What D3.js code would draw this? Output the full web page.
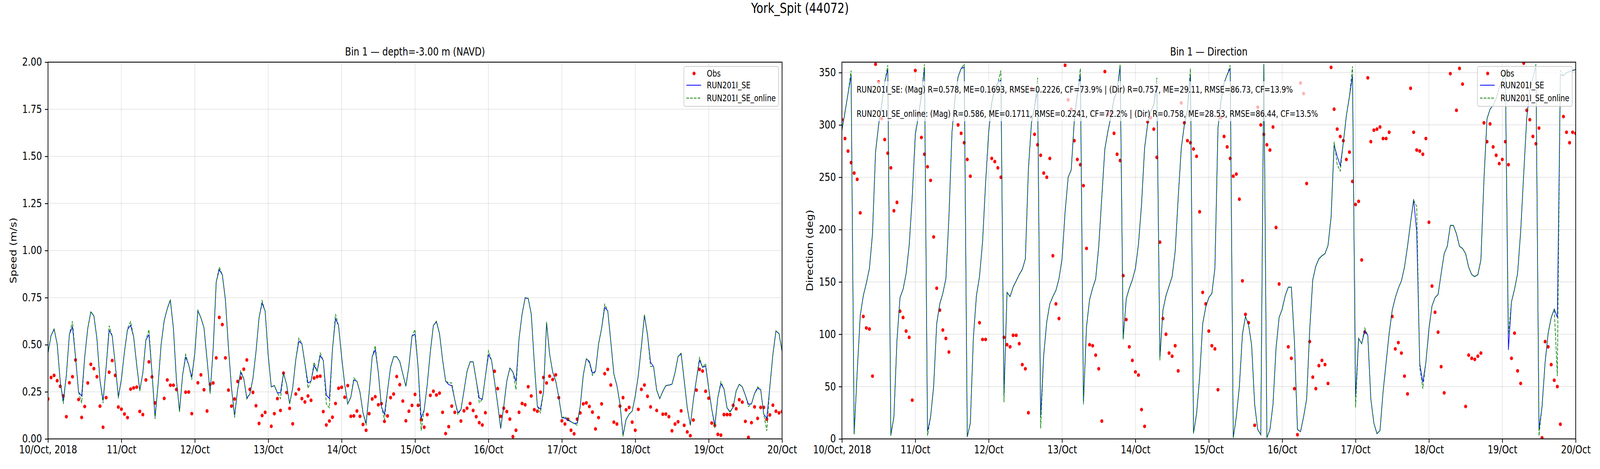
<!DOCTYPE html>
<html>
<head>
<meta charset="utf-8">
<script src="https://cdn.jsdelivr.net/npm/d3@7"></script>
<style>
  html, body { margin: 0; padding: 0; background: #fff; overflow: hidden; }
  #chart { display: block; width: 100vw; height: 100vh; }
  text { font-family: "DejaVu Sans", sans-serif; fill: #000; }
</style>
</head>
<body>
<svg id="chart" viewBox="0 0 5000 1200" preserveAspectRatio="none"></svg>
<script>
// hourly series, 10/Oct 00:00 to 20/Oct 00:00 (UTC), one row per day
const startTime = new Date(Date.UTC(2018, 9, 10, 0));
const dayLabels = ["10/Oct, 2018", "11/Oct", "12/Oct", "13/Oct", "14/Oct", "15/Oct",
  "16/Oct", "17/Oct", "18/Oct", "19/Oct", "20/Oct"];
const speedTicks = [0, 0.25, 0.5, 0.75, 1.0, 1.25, 1.5, 1.75, 2.0];
const dirTicks = [0, 50, 100, 150, 200, 250, 300, 350];
const seriesNames = ["Obs", "RUN201I_SE", "RUN201I_SE_online"];

const speedObs = [
  0.212,0.326,0.337,0.309,0.279,0.228,0.118,0.298,0.330,0.419,0.209,0.114,0.172,0.297,0.396,0.373,0.330,0.174,0.062,0.219,0.354,0.416,0.337,0.169,
  0.158,0.132,0.113,0.264,0.271,0.275,0.146,0.129,0.313,0.409,0.329,0.191,null,null,0.215,0.313,0.285,0.285,0.262,null,null,0.248,0.249,0.134,
  null,0.298,0.340,0.261,0.148,0.290,0.297,0.430,0.645,0.607,0.430,0.259,0.174,0.212,0.305,0.323,0.370,0.419,0.263,0.247,0.176,0.082,0.124,0.141,
  null,0.067,0.134,0.214,0.151,0.349,0.246,0.162,0.080,0.238,0.263,0.214,0.196,0.228,0.205,0.323,0.330,0.333,0.145,0.074,0.095,0.115,0.188,0.269,
  0.274,0.221,0.283,0.120,0.122,0.148,0.120,0.077,0.046,0.134,0.212,0.224,0.181,0.187,0.093,0.122,0.219,0.238,0.331,0.288,0.201,0.096,0.147,0.178,
  0.236,0.178,0.102,0.062,0.129,0.231,0.253,0.233,0.243,0.141,0.028,0.065,0.174,0.141,null,0.095,0.149,0.163,0.188,0.151,0.118,0.086,0.074,0.139,
  null,null,0.359,0.267,0.120,0.163,0.145,0.105,0.012,0.046,0.141,0.188,0.181,0.277,0.228,0.155,0.147,0.248,0.326,0.297,0.333,0.315,0.340,0.219,
  0.096,0.079,0.104,0.046,0.027,0.105,0.138,0.186,0.191,0.172,0.142,0.053,0.113,0.186,0.346,0.369,0.286,0.089,0.079,0.174,0.219,0.154,0.167,0.089,
  0.046,0.157,0.263,0.286,0.226,0.170,null,0.151,null,0.131,0.132,0.118,0.043,0.079,0.091,0.149,0.072,0.037,0.017,0.100,0.259,0.369,0.360,0.253,
  0.216,0.084,0.072,0.024,0.020,0.129,0.129,0.129,0.178,0.160,0.208,0.195,0.093,0.008,0.086,0.170,0.109,0.167,0.167,0.104,0.127,0.179,0.147,0.138,
  0.145];

const speedSE = [
  0.456,0.549,0.582,0.504,0.304,0.200,0.338,0.556,0.595,0.435,0.248,0.228,0.435,0.587,0.674,0.653,0.532,0.310,0.203,0.380,0.577,0.546,0.393,0.224,
  0.317,0.463,0.580,0.603,0.542,0.393,0.259,0.349,0.525,0.553,0.352,0.117,0.290,0.504,0.629,0.691,0.736,0.587,0.310,0.148,0.338,0.435,0.393,0.328,
  0.456,0.680,0.643,0.590,0.421,0.245,0.477,0.833,0.898,0.871,0.739,0.483,0.269,0.124,0.262,0.352,0.321,0.217,0.238,0.321,0.463,0.643,0.722,0.677,
  0.442,0.276,0.283,0.245,0.245,0.349,0.290,0.186,0.270,0.420,0.518,0.506,0.400,0.297,0.307,0.390,0.359,0.442,0.416,0.233,0.214,0.476,0.638,0.601,
  0.435,0.290,0.186,0.221,0.313,0.306,0.248,0.138,0.082,0.248,0.438,0.473,0.352,0.172,0.131,0.255,0.380,0.436,0.436,0.411,0.345,0.279,0.387,0.546,
  0.556,0.380,0.110,0.155,0.290,0.463,0.602,0.622,0.559,0.421,0.307,0.288,0.283,0.207,0.139,0.155,0.255,0.359,0.409,0.409,0.311,0.217,0.210,0.331,
  0.447,0.418,0.304,0.186,0.055,0.172,0.307,0.376,0.355,0.304,0.532,0.663,0.748,0.746,0.663,0.400,0.172,0.158,0.250,0.615,0.450,0.355,0.307,0.221,
  0.113,0.110,0.100,0.091,0.082,0.084,0.172,0.338,0.425,0.411,0.349,0.359,0.504,0.587,0.698,0.680,0.518,0.345,0.283,0.186,0.020,0.103,0.131,0.148,
  0.228,0.338,0.490,0.656,0.553,0.407,0.383,0.259,0.214,0.252,0.283,0.286,0.290,0.352,0.438,0.451,0.310,0.165,0.072,0.207,0.317,0.418,0.380,0.387,
  0.269,0.158,0.072,0.221,0.293,0.266,0.165,0.145,0.169,0.255,0.290,0.276,0.231,0.184,0.186,0.241,0.269,0.262,0.131,0.110,0.276,0.449,0.573,0.559,
  0.463];

const speedOnline = [
  0.456,0.549,0.584,0.504,0.304,0.186,0.338,0.556,0.625,0.435,0.248,0.190,0.435,0.587,0.676,0.653,0.532,0.310,0.190,0.380,0.601,0.546,0.393,0.215,
  0.317,0.463,0.585,0.623,0.542,0.393,0.254,0.349,0.525,0.580,0.352,0.106,0.290,0.504,0.629,0.691,0.740,0.587,0.310,0.143,0.338,0.449,0.393,0.314,
  0.456,0.683,0.643,0.590,0.421,0.240,0.477,0.833,0.912,0.871,0.739,0.483,0.269,0.113,0.262,0.362,0.321,0.212,0.238,0.321,0.463,0.643,0.734,0.677,
  0.442,0.276,0.283,0.245,0.214,0.349,0.290,0.186,0.270,0.420,0.535,0.506,0.400,0.269,0.307,0.407,0.359,0.456,0.416,0.186,0.165,0.476,0.662,0.601,
  0.435,0.290,0.186,0.221,0.324,0.306,0.248,0.138,0.072,0.248,0.438,0.494,0.352,0.172,0.100,0.255,0.380,0.436,0.436,0.411,0.345,0.279,0.387,0.546,
  0.580,0.380,0.044,0.155,0.290,0.463,0.602,0.625,0.559,0.421,0.307,0.297,0.297,0.207,0.129,0.155,0.255,0.359,0.409,0.409,0.311,0.193,0.210,0.331,
  0.468,0.418,0.304,0.186,0.060,0.172,0.307,0.376,0.355,0.262,0.532,0.663,0.750,0.746,0.663,0.400,0.172,0.138,0.250,0.622,0.450,0.355,0.307,0.221,
  0.113,0.118,0.105,0.091,0.082,0.073,0.172,0.338,0.425,0.404,0.337,0.359,0.504,0.587,0.715,0.680,0.518,0.345,0.283,0.186,0.013,0.103,0.131,0.148,
  0.228,0.338,0.490,0.660,0.553,0.385,0.383,0.259,0.214,0.252,0.283,0.286,0.290,0.352,0.438,0.455,0.310,0.165,0.072,0.207,0.317,0.432,0.380,0.400,
  0.269,0.158,0.058,0.221,0.304,0.266,0.165,0.141,0.169,0.255,0.290,0.276,0.231,0.172,0.186,0.241,0.276,0.262,0.131,0.044,0.276,0.449,0.573,0.559,
  0.463];

const dirObs = [
  305,287,275,264,254,248,216,117,106,105,60,358,341,306,286,273,259,218,226,122,116,103,97,37,
  352,311,288,272,260,247,193,144,123,104,96,83,null,null,300,292,283,267,251,null,null,111,95,95,
  null,268,265,259,250,97,90,88,99,99,91,71,67,25,335,291,281,271,254,250,268,175,129,115,
  null,357,324,315,285,267,262,242,182,90,89,80,67,17,351,310,312,292,272,266,156,114,88,75,
  64,61,28,12,303,307,296,269,188,115,100,82,79,89,65,321,302,285,283,277,270,217,140,129,
  103,89,86,47,307,289,279,268,251,253,229,151,119,111,null,13,317,300,291,281,276,298,202,148,
  null,null,88,77,48,4,340,330,244,93,59,48,70,75,71,53,355,315,296,289,285,267,274,246,
  224,227,171,102,345,284,295,296,298,287,287,293,117,86,92,82,60,43,335,293,276,275,272,287,
  207,146,121,102,69,44,null,349,null,314,354,339,31,80,77,76,79,82,302,284,301,279,271,263,
  267,284,262,77,101,65,53,359,314,305,289,282,297,1,93,88,71,56,50,14,308,293,283,293,
  292];

const dirSE = [
  295,312,330,347,5,64,118,137,149,163,196,274,300,319,341,353,4,21,94,135,143,158,185,231,
  291,308,328,354,7,21,50,110,129,139,153,212,293,326,346,354,355,2,15,97,137,155,188,245,
  293,321,335,340,343,42,140,136,145,151,157,162,172,258,302,317,333,21,80,112,129,136,142,153,
  172,217,250,257,304,330,347,35,107,133,144,153,184,231,277,294,308,325,332,356,96,134,144,152,
  163,186,224,278,301,313,319,338,78,123,137,146,155,179,231,278,300,314,348,6,24,59,110,126,
  135,139,163,297,323,340,348,354,1,21,50,100,117,109,90,33,9,4,358,1,9,33,87,116,
  124,137,145,145,94,9,7,21,38,104,152,165,172,175,177,185,212,281,270,261,283,309,327,347,
  40,96,91,103,99,38,15,5,8,45,73,101,123,135,144,151,164,184,207,229,198,72,54,73,
  105,127,135,138,158,177,184,204,204,196,184,182,177,164,157,155,157,171,248,306,315,319,325,336,
  342,350,85,131,143,158,198,253,307,333,345,356,9,31,73,101,116,124,116,348,347,350,351,352,
  353];

const dirOnline = [
  295,312,330,352,4,64,118,137,149,163,196,274,300,319,341,357,3,21,94,135,143,158,185,231,
  291,308,328,358,3,21,50,110,129,139,153,212,293,326,346,354,358,2,15,97,137,155,188,245,
  293,321,335,340,352,35,140,136,145,151,157,162,172,258,302,317,345,10,80,112,129,136,142,153,
  172,217,250,257,304,330,354,33,107,133,144,153,184,231,277,294,308,325,332,358,95,134,144,152,
  163,186,224,278,301,313,319,345,75,123,137,146,155,179,231,278,300,314,354,5,24,59,110,126,
  135,139,163,297,323,340,348,357,1,21,50,100,117,109,90,33,9,4,358,1,9,33,87,116,
  124,137,145,145,94,9,7,21,38,104,152,165,172,175,177,185,212,284,262,256,283,309,327,356,
  30,96,91,106,99,38,15,5,8,45,73,101,123,135,144,151,164,184,207,228,222,68,48,73,
  105,127,135,138,158,177,184,204,204,196,184,182,177,164,157,155,157,171,248,306,315,319,325,336,
  342,352,100,131,143,158,198,253,307,333,345,358,3,31,73,101,116,124,60,352,347,350,351,352,
  353];

const statLines = [
  "RUN201I_SE: (Mag) R=0.578, ME=0.1693, RMSE=0.2226, CF=73.9% | (Dir) R=0.757, ME=29.11, RMSE=86.73, CF=13.9%",
  "RUN201I_SE_online: (Mag) R=0.586, ME=0.1711, RMSE=0.2241, CF=72.2% | (Dir) R=0.758, ME=28.53, RMSE=86.44, CF=13.5%"
];

// ---- layout (figure is 25 x 6 in at 200 dpi) ----
const svg = d3.select("#chart");
const plotTop = 159, plotBottom = 1123;
const tickFont = 27.8, smallFont = 22.2;
const colors = { obs: "#ff0000", se: "#0000ff", online: "#008000" };

const days = d3.range(11).map(i => d3.utcDay.offset(startTime, i));
const times = speedSE.map((d, i) => d3.utcHour.offset(startTime, i));

svg.append("rect").attr("width", 5000).attr("height", 1200).attr("fill", "#fff");

svg.append("text")
  .attr("x", 2500).attr("y", 33)
  .attr("text-anchor", "middle")
  .style("font-size", "34.7px")
  .text("York_Spit (44072)");

function drawPanel(p) {
  const x = d3.scaleUtc().domain([days[0], days[10]]).range([p.left, p.right]);
  const y = d3.scaleLinear().domain(p.yDomain).range([plotBottom, plotTop]);
  const g = svg.append("g");

  g.append("clipPath").attr("id", p.id + "-clip")
    .append("rect")
    .attr("x", p.left).attr("y", plotTop)
    .attr("width", p.right - p.left).attr("height", plotBottom - plotTop);

  // grid
  g.append("g").selectAll("line").data(days).join("line")
    .attr("x1", d => x(d)).attr("x2", d => x(d))
    .attr("y1", plotTop).attr("y2", plotBottom)
    .attr("stroke", "#b0b0b0").attr("stroke-opacity", 0.3).attr("stroke-width", 2.2);
  g.append("g").selectAll("line").data(p.yTicks).join("line")
    .attr("x1", p.left).attr("x2", p.right)
    .attr("y1", d => y(d)).attr("y2", d => y(d))
    .attr("stroke", "#b0b0b0").attr("stroke-opacity", 0.3).attr("stroke-width", 2.2);

  const plot = g.append("g").attr("clip-path", `url(#${p.id}-clip)`);

  // observations
  plot.append("g").selectAll("circle")
    .data(p.obs.map((v, i) => ({ t: times[i], v })).filter(d => d.v !== null))
    .join("circle")
    .attr("cx", d => x(d.t))
    .attr("cy", d => y(d.v))
    .attr("r", 4.7)
    .attr("fill", colors.obs);

  const line = d3.line().x((d, i) => x(times[i])).y(d => y(d));

  plot.append("path").datum(p.se)
    .attr("d", line)
    .attr("fill", "none").attr("stroke", colors.se).attr("stroke-width", 2);

  plot.append("path").datum(p.online)
    .attr("d", line)
    .attr("fill", "none").attr("stroke", colors.online).attr("stroke-width", 2)
    .attr("stroke-dasharray", "8.2,3.5");

  // axes
  const xAxis = d3.axisBottom(x).tickValues(days)
    .tickFormat((d, i) => dayLabels[i]).tickSize(9.7).tickPadding(8);
  const yAxis = d3.axisLeft(y).tickValues(p.yTicks)
    .tickFormat(p.yFormat).tickSize(9.7).tickPadding(9);

  const gx = g.append("g").attr("transform", `translate(0,${plotBottom})`).call(xAxis);
  const gy = g.append("g").attr("transform", `translate(${p.left},0)`).call(yAxis);
  [gx, gy].forEach(a => {
    a.select(".domain").remove();
    a.selectAll(".tick line").attr("stroke", "#000").attr("stroke-width", 2.2);
    a.selectAll(".tick text")
      .style("font-size", tickFont + "px")
      .style("font-family", "DejaVu Sans")
      .attr("fill", "#000");
  });

  g.append("rect")
    .attr("x", p.left).attr("y", plotTop)
    .attr("width", p.right - p.left).attr("height", plotBottom - plotTop)
    .attr("fill", "none").attr("stroke", "#000").attr("stroke-width", 2.2);

  g.append("text")
    .attr("transform", `translate(${p.labelX},${(plotTop + plotBottom) / 2}) rotate(-90)`)
    .attr("text-anchor", "middle")
    .attr("dominant-baseline", "central")
    .style("font-size", tickFont + "px")
    .text(p.yLabel);

  g.append("text")
    .attr("x", (p.left + p.right) / 2).attr("y", 142)
    .attr("text-anchor", "middle")
    .style("font-size", tickFont + "px")
    .text(p.title);

  // stats text with faded white box
  if (p.stats) {
    const sg = g.append("g");
    const box = sg.append("rect");
    const txt = sg.selectAll("text").data(p.stats).join("text")
      .attr("x", p.left + 46)
      .attr("y", (d, i) => 237 + i * 62)
      .style("font-size", smallFont + "px")
      .text(d => d);
    let w = 0;
    txt.each(function () { w = Math.max(w, this.getComputedTextLength()); });
    box.attr("x", p.left + 39).attr("y", 208)
      .attr("width", w + 14).attr("height", 102)
      .attr("fill", "#fff").attr("fill-opacity", 0.7);
  }

  // legend
  const lx = p.right - 307, ly = plotTop + 11;
  const lg = g.append("g").attr("transform", `translate(${lx},${ly})`);
  lg.append("rect")
    .attr("width", 296).attr("height", 102).attr("rx", 5)
    .attr("fill", "#fff").attr("fill-opacity", 0.8)
    .attr("stroke", "#cccccc").attr("stroke-width", 2);
  const rows = [18, 48, 81];
  lg.append("circle").attr("cx", 32).attr("cy", rows[0]).attr("r", 4.7).attr("fill", colors.obs);
  lg.append("line").attr("x1", 8).attr("x2", 54).attr("y1", rows[1]).attr("y2", rows[1])
    .attr("stroke", colors.se).attr("stroke-width", 2);
  lg.append("line").attr("x1", 8).attr("x2", 54).attr("y1", rows[2]).attr("y2", rows[2])
    .attr("stroke", colors.online).attr("stroke-width", 2).attr("stroke-dasharray", "8.2,3.5");
  lg.selectAll("text").data(seriesNames).join("text")
    .attr("x", 72).attr("y", (d, i) => rows[i] + 8)
    .style("font-size", smallFont + "px")
    .text(d => d);
}

drawPanel({
  id: "speed", left: 150, right: 2444, yDomain: [0, 2], yTicks: speedTicks,
  yFormat: d3.format(".2f"), yLabel: "Speed (m/s)", labelX: 41,
  title: "Bin 1 \u2014 depth=-3.00 m (NAVD)",
  obs: speedObs, se: speedSE, online: speedOnline
});

drawPanel({
  id: "dir", left: 2631, right: 4924, yDomain: [0, 360], yTicks: dirTicks,
  yFormat: d3.format("d"), yLabel: "Direction (deg)", labelX: 2531,
  title: "Bin 1 \u2014 Direction",
  obs: dirObs, se: dirSE, online: dirOnline, stats: statLines
});
</script>
</body>
</html>
